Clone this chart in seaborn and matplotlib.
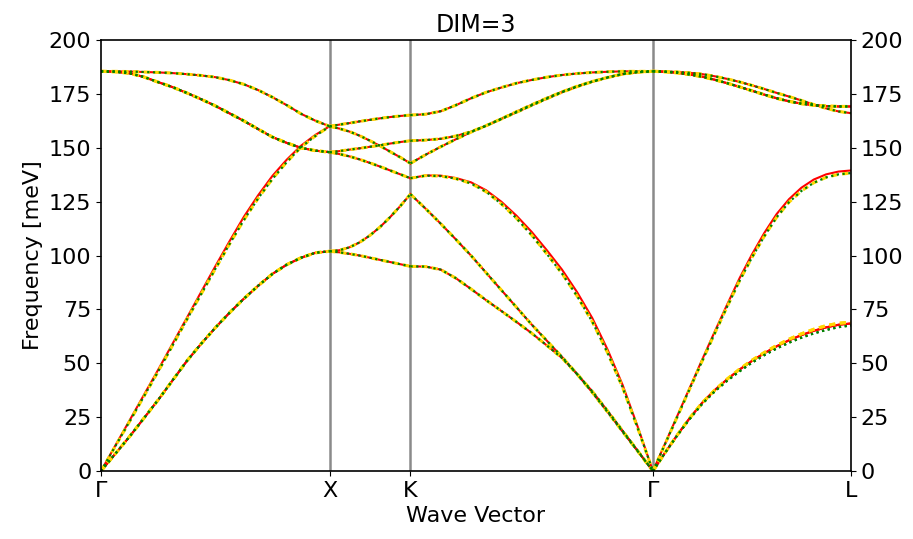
import numpy as np
import pandas as pd
import seaborn as sns
import matplotlib.pyplot as plt

# high-symmetry path (fcc), segment lengths in units of 2*pi/a
path_labels = ["Γ", "X", "K", "Γ", "L"]
seg_len = [1.0, np.sqrt(2) / 4, 3 * np.sqrt(2) / 4, np.sqrt(3) / 2]

# q-points are sampled evenly along each segment
n_long = 17   # Gamma-X, K-Gamma, Gamma-L
n_short = 9   # X-K

# Gamma-X (meV)
gx_ta = [0, 8, 16, 24.5, 33, 42, 51, 59, 66.5, 73.5, 80, 86, 91.5, 95.8, 99, 101.3, 102]
gx_la = [0, 11.8, 23.5, 35.3, 47, 59, 71, 83, 95, 106.7, 118, 128, 137, 144.5, 151, 156, 160]
gx_to = [185.5, 185.3, 184.6, 182.9, 180.5, 178.2, 175.5, 172.6, 169.5, 166, 162.5,
         158.7, 155, 152.3, 150, 148.7, 148]
gx_lo = [185.5, 185.5, 185.4, 185.2, 185, 184.7, 184.2, 183.6, 182.8, 181.4, 179.5,
         176.8, 173.5, 169.8, 165.8, 162.6, 160]

# X-K
xk_1 = [160, 160.8, 161.5, 162.3, 163, 163.7, 164.3, 164.8, 165.2]
xk_2 = [160, 158.9, 157.5, 155.6, 153.3, 150.9, 148.2, 145.6, 142.8]
xk_3 = [148, 148.5, 149.2, 149.8, 150.5, 151.2, 152, 152.7, 153.3]
xk_4 = [148, 147.1, 146, 144.6, 143, 141.3, 139.5, 137.7, 135.9]
xk_5 = [102, 102.5, 103.9, 106.2, 109.4, 113.3, 117.9, 123, 128.5]
xk_6 = [102, 101.5, 100.8, 100, 99, 98, 97, 96, 95]

# K-Gamma
kg_1 = [165.2, 165.6, 167, 169.8, 173, 175.8, 178, 180, 181.5, 182.8, 183.8, 184.5,
        185, 185.3, 185.5, 185.5, 185.5]
kg_2 = [153.3, 153.6, 154.2, 155.5, 157.5, 160.3, 163.5, 166.8, 170, 173.1, 176, 178.6,
        180.8, 182.7, 184.3, 185.2, 185.5]
kg_3 = [142.8, 146.8, 150.5, 154, 157.3, 160.3, 163.4, 166.5, 169.7, 172.8, 175.8, 178.4,
        180.7, 182.6, 184.2, 185.1, 185.5]
kg_4 = [135.9, 137.2, 137.1, 136, 134, 130.3, 125, 118.5, 111, 102.5, 93.5, 83, 71,
        56.5, 40, 20.5, 0]
kg_5 = [128.5, 121.8, 114.8, 107.5, 100, 92, 84, 76, 68, 60.5, 53, 45, 37, 28, 18.7, 9.4, 0]
kg_6 = [95, 94.9, 93.5, 89.5, 84.5, 79.3, 74.3, 69.2, 64, 58.3, 52.5, 45, 36.5, 27.5,
        18.3, 9.2, 0]

# Gamma-L
gl_to = [185.5, 185.3, 184.8, 184, 183, 181.6, 180, 178.3, 176.5, 174.7, 173, 171.6,
         170.5, 169.8, 169.4, 169.2, 169.2]
gl_lo = [185.5, 185.4, 185.2, 184.8, 184.2, 183.2, 182, 180.6, 179, 177.3, 175.5, 173.8,
         172, 170.1, 168.3, 166.9, 166.1]
gl_la = [0, 13, 26, 39, 52, 64.8, 77.3, 89.5, 100.5, 110.5, 119.3, 126.2, 131.5, 135.3,
         137.7, 139, 139.5]
gl_ta = [0, 8.7, 17, 24.8, 31.8, 37.6, 42.6, 47.1, 51.1, 54.7, 57.9, 60.7, 63.1, 65.1,
         66.7, 67.9, 68.5]

# branches where the dashed / dotted results differ from the solid one
gx_la_dash = [0, 11.5, 23, 34.6, 46.2, 58.2, 70.2, 82, 93.8, 105.4, 116.5, 126.6, 135.6,
              143.4, 150.3, 155.5, 160]
kg_4_dash = [135.9, 137.1, 136.9, 135.7, 133.5, 129.6, 124, 117.3, 109.5, 100.8, 91.7,
             81.2, 69.3, 55, 38.8, 19.9, 0]
gl_la_dash = [0, 12.8, 25.6, 38.5, 51.3, 64, 76.3, 88.3, 99.1, 109, 117.8, 124.8, 130,
              133.8, 136.3, 137.7, 138.3]
gl_ta_dash = [0, 8.7, 17, 24.8, 31.8, 37.6, 42.7, 47.3, 51.4, 55, 58.3, 61.2, 63.7, 65.8,
              67.5, 68.6, 69.1]
gl_ta_dot = [0, 8.6, 16.8, 24.4, 31.3, 37, 41.9, 46.3, 50.3, 53.8, 56.9, 59.6, 61.9,
             63.9, 65.5, 66.8, 67.6]

nodes = np.concatenate([[0], np.cumsum(seg_len)])


def branches(la_gx, la_kg, la_gl, ta_gl):
    return [
        (0, n_long, {"ta1": gx_ta, "ta2": gx_ta, "la": la_gx, "to1": gx_to, "to2": gx_to, "lo": gx_lo}),
        (1, n_short, {"b1": xk_1, "b2": xk_2, "b3": xk_3, "b4": xk_4, "b5": xk_5, "b6": xk_6}),
        (2, n_long, {"b1": kg_1, "b2": kg_2, "b3": kg_3, "b4": la_kg, "b5": kg_5, "b6": kg_6}),
        (3, n_long, {"to1": gl_to, "to2": gl_to, "lo": gl_lo, "la": la_gl, "ta1": ta_gl, "ta2": ta_gl}),
    ]


series = {
    "solid": branches(gx_la, kg_4, gl_la, gl_ta),
    "dashed": branches(gx_la_dash, kg_4_dash, gl_la_dash, gl_ta_dash),
    "dotted": branches(gx_la_dash, kg_4_dash, gl_la_dash, gl_ta_dot),
}

rows = []
for src, segs in series.items():
    for seg, n, bands in segs:
        q = nodes[seg] + np.linspace(0, 1, n) * seg_len[seg]
        for name, vals in bands.items():
            for x, v in zip(q, vals):
                rows.append((src, f"{seg}-{name}", x, v))
df = pd.DataFrame(rows, columns=["source", "branch", "q", "freq"])

styles = {
    "solid": dict(color="#ff0000", lw=1.5, linestyle="-"),
    "dashed": dict(color="#ffd700", lw=2.2, linestyle=(0, (2, 1.5))),
    "dotted": dict(color="#008000", lw=1.6, linestyle=(0, (1, 1.6))),
}

fig = plt.figure(figsize=(9.13, 5.39), dpi=100)
ax = fig.add_axes([0.1106, 0.126, 0.8214, 0.7996])

for x in nodes[1:-1]:
    ax.axvline(x, color="#8a8a8a", lw=1.8, zorder=0.5)

for src, kw in styles.items():
    sns.lineplot(data=df[df.source == src], x="q", y="freq", units="branch",
                 estimator=None, sort=False, ax=ax, **kw)

ax.set_xlim(nodes[0], nodes[-1])
ax.set_ylim(0, 200)
ax.set_xticks(nodes)
ax.set_xticklabels(path_labels)
ax.set_yticks(np.arange(0, 201, 25))
ax.tick_params(labelsize=16, right=True, labelright=True)
for s in ax.spines.values():
    s.set_linewidth(1.2)

ax.set_title("DIM=3", fontsize=17)
ax.set_xlabel("Wave Vector", fontsize=16)
ax.set_ylabel("Frequency [meV]", fontsize=16)

fig.savefig("out.png", dpi=100)
